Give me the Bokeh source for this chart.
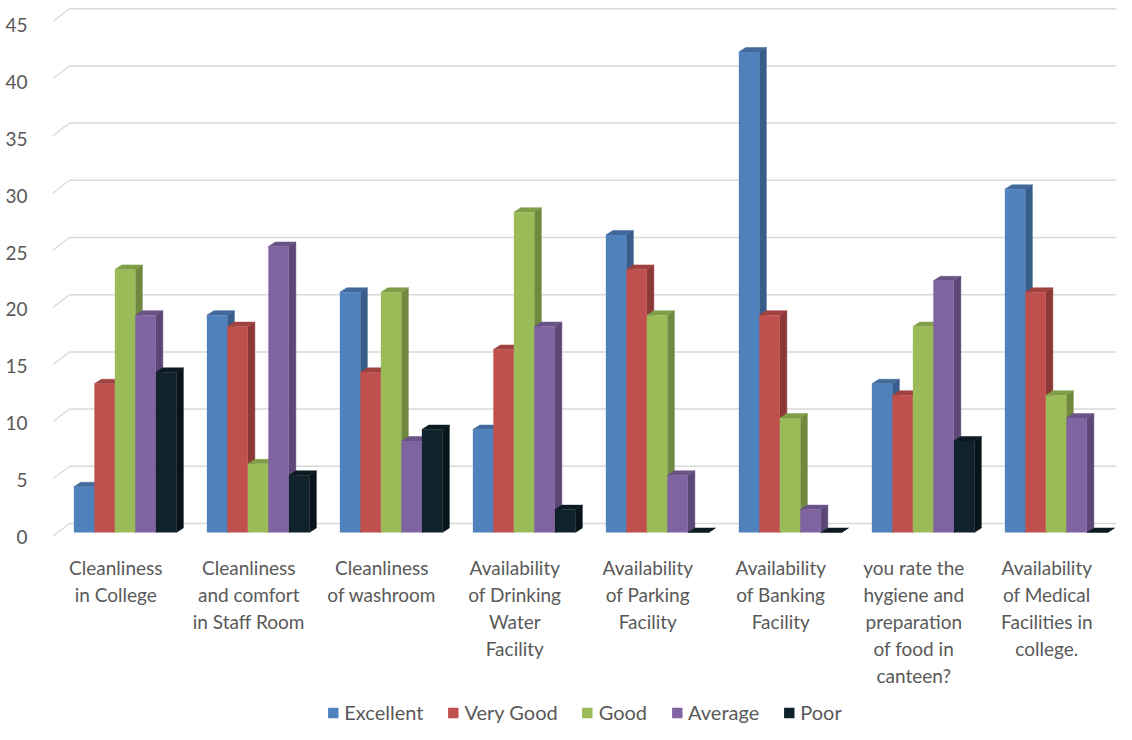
from bokeh.plotting import figure
from bokeh.models import Range1d, FixedTicker, Legend, LegendItem, LinearAxis
from bokeh.core.properties import value
from bokeh.embed import file_html
from bokeh.resources import INLINE

# ---------------- data ----------------
categories = [
    "Cleanliness\nin College",
    "Cleanliness\nand comfort\nin Staff Room",
    "Cleanliness\nof washroom",
    "Availability\nof Drinking\nWater\nFacility",
    "Availability\nof Parking\nFacility",
    "Availability\nof Banking\nFacility",
    "you rate the\nhygiene and\npreparation\nof food in\ncanteen?",
    "Availability\nof Medical\nFacilities in\ncollege.",
]
series_names = ["Excellent", "Very Good", "Good", "Average", "Poor"]
excellent = [4, 19, 21, 9, 26, 42, 13, 30]
very_good = [13, 18, 14, 16, 23, 19, 12, 21]
good = [23, 6, 21, 28, 19, 10, 18, 12]
average = [19, 25, 8, 18, 5, 2, 22, 10]
poor = [14, 5, 9, 2, 0, 0, 8, 0]
y_ticks = [0, 5, 10, 15, 20, 25, 30, 35, 40, 45]

series_values = [excellent, very_good, good, average, poor]

# ---------------- style ----------------
front_colors = ["#4F81BD", "#C0504D", "#9BBB59", "#8064A2", "#10222B"]
side_colors = ["#385D8A", "#8C3836", "#71893F", "#5C4776", "#08141A"]
top_colors = ["#41699B", "#A04240", "#809D48", "#6A5387", "#0C1B22"]
text_color = "#595959"
grid_color = "#D9D9D9"
FONT = "Lato"

W, H = 1116, 724
FRAME_L = 52                 # canvas px left of frame
FRAME_W = W - FRAME_L
PX_X = 133.0                 # px per category
PX_Y = 11.44                 # px per unit value (front plane / back wall / bars)
PX_Y_LABELS = 11.36          # px per unit for tick-label placement
front0_canvas = 536.0        # canvas y of front value 0
first_center_canvas = 124.6  # canvas x of first group center


def shifted_range(zero_px, px_per_unit):
    return Range1d(-(H - zero_px) / px_per_unit, zero_px / px_per_unit)


x_start = -(first_center_canvas - FRAME_L) / PX_X
x_end = x_start + FRAME_W / PX_X
y_range = shifted_range(front0_canvas, PX_Y)

back_shift = 13.0 / PX_Y     # back wall offset, in value units
bw = 20.5 / PX_X             # bar width
dx = 7.0 / PX_X              # depth offsets
dy = 4.5 / PX_Y
slant_x = x_start + 17.0 / PX_X

p = figure(width=W, height=H,
           x_range=Range1d(x_start, x_end), y_range=y_range,
           output_backend="svg", toolbar_location=None,
           x_axis_location=None, y_axis_location=None,
           min_border_left=FRAME_L, min_border_right=0,
           min_border_top=0, min_border_bottom=0)
p.extra_y_ranges = {
    "bars": shifted_range(front0_canvas - 4.0, PX_Y),
    "back": shifted_range(front0_canvas - 13.0, PX_Y),
    "labels": shifted_range(front0_canvas, PX_Y_LABELS),
}
p.outline_line_color = None
p.xgrid.visible = False
p.ygrid.visible = False
p.background_fill_color = "white"
p.border_fill_color = "white"

ax = LinearAxis(y_range_name="labels", ticker=FixedTicker(ticks=y_ticks))
ax.axis_line_color = None
ax.major_tick_line_color = None
ax.minor_tick_line_color = None
ax.major_label_text_font = FONT
ax.major_label_text_font_size = "19px"
ax.major_label_text_color = text_color
ax.major_label_standoff = 19
p.add_layout(ax, "left")

# back-wall gridlines and left slants
n = len(y_ticks)
p.segment(x0=[slant_x] * n, y0=y_ticks, x1=[x_end] * n, y1=y_ticks,
          y_range_name="back", line_color=grid_color, line_width=1.5)
p.segment(x0=[x_start] * n, y0=y_ticks, x1=[slant_x] * n,
          y1=[t + back_shift for t in y_ticks],
          line_color=grid_color, line_width=1.2)

# 3D bars
legend_items = []
for j, vals in enumerate(series_values):
    xc = [i + (j - 2) * bw for i in range(len(categories))]
    xl = [x - bw / 2 for x in xc]
    xr = [x + bw / 2 for x in xc]
    side_xs = [[a, a + dx, a + dx, a] for a in xr]
    side_ys = [[0, dy, v + dy, v] for v in vals]
    top_xs = [[l, l + dx, r + dx, r] for l, r in zip(xl, xr)]
    top_ys = [[v, v + dy, v + dy, v] for v in vals]
    p.patches(side_xs, side_ys, y_range_name="bars",
              fill_color=side_colors[j], line_color=side_colors[j], line_width=0.5)
    p.patches(top_xs, top_ys, y_range_name="bars",
              fill_color=top_colors[j], line_color=top_colors[j], line_width=0.5)
    r = p.vbar(x=xc, width=bw, top=vals, bottom=0, y_range_name="bars",
               fill_color=front_colors[j], line_color=None)
    legend_items.append(LegendItem(label=series_names[j], renderers=[r]))

# category labels
label_y = -(555 - front0_canvas) / PX_Y
p.text(x=[i - 0.07 for i in range(len(categories))], y=[label_y] * len(categories),
       text=categories, text_align="center", text_baseline="top",
       text_font=value(FONT), text_font_size="19px", text_color=text_color,
       text_line_height=1.18)

legend = Legend(items=legend_items, location="bottom_center", orientation="horizontal",
                border_line_color=None, background_fill_alpha=0,
                glyph_width=13, glyph_height=13, label_standoff=5, spacing=23,
                padding=0, margin=0, label_height=20,
                label_text_font=FONT, label_text_font_size="20px",
                label_text_color=text_color)
p.add_layout(legend)

open("out.html", "w").write(file_html(p, INLINE))
